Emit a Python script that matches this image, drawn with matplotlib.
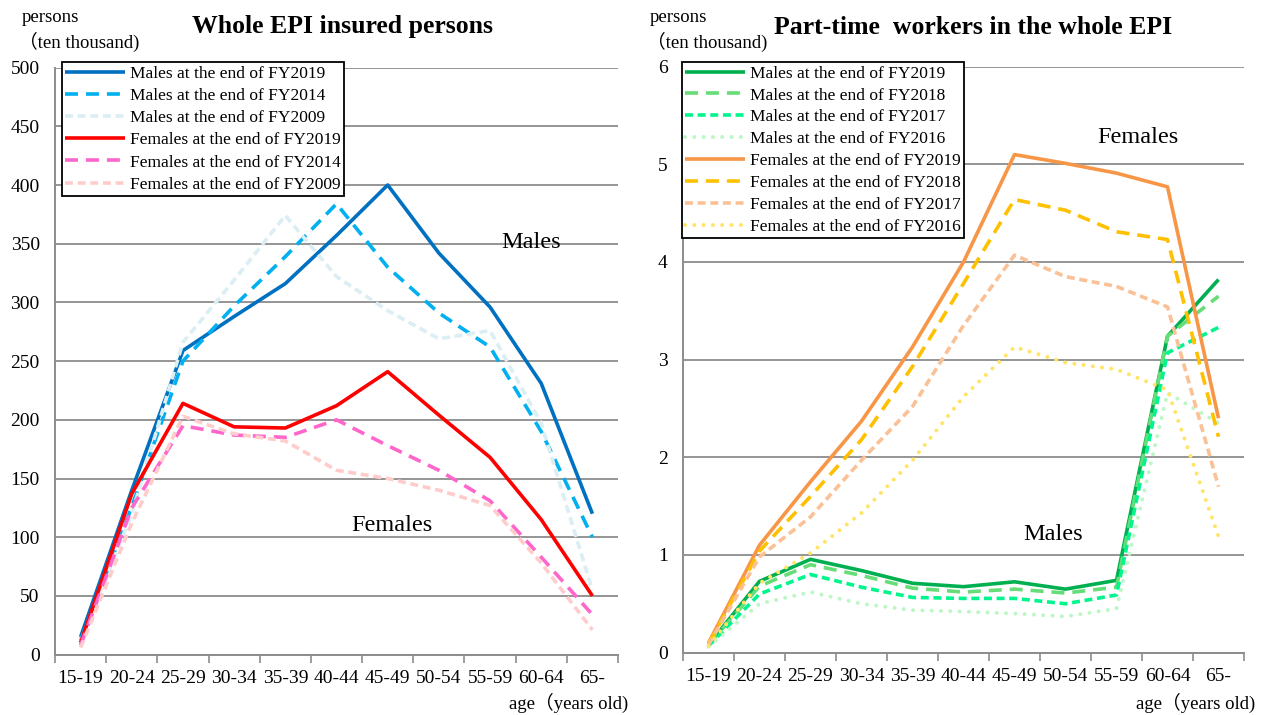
import matplotlib
matplotlib.use("Agg")
import matplotlib.pyplot as plt
import numpy as np

plt.rcParams['font.family'] = ['Liberation Serif', 'Noto Sans CJK JP', 'DejaVu Sans']

ages = ["15-19", "20-24", "25-29", "30-34", "35-39", "40-44",
        "45-49", "50-54", "55-59", "60-64", "65-"]

# Left chart: whole EPI insured persons (ten thousand)
males_2019 = [15, 140, 259, 288, 316, 357, 400, 342, 296, 231, 120]
males_2014 = [12, 126, 250, 297, 339, 384, 330, 291, 262, 190, 100]
males_2009 = [11, 120, 266, 319, 374, 322, 293, 269, 276, 197, 55]
females_2019 = [10, 137, 214, 194, 193, 212, 241, 204, 168, 115, 50]
females_2014 = [8, 125, 195, 187, 185, 200, 178, 157, 131, 83, 34]
females_2009 = [6, 112, 203, 188, 182, 157, 150, 140, 127, 78, 21]

# Right chart: part-time workers in the whole EPI (ten thousand)
pm_2019 = [0.08, 0.73, 0.955, 0.84, 0.71, 0.675, 0.725, 0.65, 0.74, 3.24, 3.82]
pm_2018 = [0.08, 0.68, 0.90, 0.79, 0.66, 0.62, 0.65, 0.61, 0.67, 3.24, 3.65]
pm_2017 = [0.07, 0.60, 0.80, 0.67, 0.565, 0.555, 0.555, 0.50, 0.59, 3.07, 3.33]
pm_2016 = [0.06, 0.50, 0.62, 0.50, 0.435, 0.42, 0.40, 0.37, 0.45, 2.66, 2.35]
pf_2019 = [0.10, 1.10, 1.75, 2.37, 3.13, 4.00, 5.10, 5.01, 4.91, 4.77, 2.40]
pf_2018 = [0.09, 1.04, 1.60, 2.18, 2.93, 3.78, 4.64, 4.53, 4.31, 4.23, 2.21]
pf_2017 = [0.08, 0.98, 1.39, 1.97, 2.52, 3.35, 4.07, 3.85, 3.75, 3.54, 1.70]
pf_2016 = [0.07, 0.71, 1.02, 1.43, 1.97, 2.62, 3.13, 2.97, 2.90, 2.69, 1.19]

left_labels = ["Males at the end of FY2019", "Males at the end of FY2014",
               "Males at the end of FY2009", "Females at the end of FY2019",
               "Females at the end of FY2014", "Females at the end of FY2009"]
right_labels = ["Males at the end of FY2019", "Males at the end of FY2018",
                "Males at the end of FY2017", "Males at the end of FY2016",
                "Females at the end of FY2019", "Females at the end of FY2018",
                "Females at the end of FY2017", "Females at the end of FY2016"]

W, H = 1261, 715
fig = plt.figure(figsize=(W / 100, H / 100), dpi=100)

GRID = '#8c8c8c'
LW = 2.6
LONG = (0, (3.6, 2.2))
SHORT = (0, (2.2, 1.3))
DOT = (0, (0.01, 2.3))


def px_axes(x0, x1, ytop, ybot):
    return fig.add_axes([x0 / W, 1 - ybot / H, (x1 - x0) / W, (ybot - ytop) / H])


def style_axes(ax, ymax, ystep):
    x = np.arange(len(ages))
    ax.set_xlim(-0.5, len(ages) - 0.5)
    ax.set_ylim(0, ymax)
    ax.set_yticks(np.arange(0, ymax + ystep / 2, ystep))
    ax.set_xticks(np.arange(-0.5, len(ages)), minor=False)
    ax.set_xticklabels([])
    ax.set_xticks(x, minor=True)
    ax.set_xticklabels(ages, minor=True, fontsize=14)
    ax.tick_params(axis='x', which='major', direction='out', length=6, color=GRID, width=1.2)
    ax.tick_params(axis='x', which='minor', length=0, pad=11)
    ax.tick_params(axis='y', length=0, pad=11, labelsize=14)
    for sp in ['top', 'right']:
        ax.spines[sp].set_visible(False)
    for sp in ['left', 'bottom']:
        ax.spines[sp].set_color(GRID)
        ax.spines[sp].set_linewidth(1.4)
    ax.grid(axis='y', color=GRID, linewidth=1.3)
    ax.set_axisbelow(True)
    return x


def make_legend(ax, left_px, spacing):
    leg = ax.legend(loc='upper left', bbox_to_anchor=(left_px / W, 1 - 62 / H),
                    bbox_transform=fig.transFigure, fontsize=12.5, frameon=True,
                    fancybox=False, edgecolor='black', borderaxespad=0,
                    handlelength=3.4, handletextpad=0.3, labelspacing=spacing,
                    borderpad=0.2, framealpha=1)
    leg.get_frame().set_linewidth(1.3)
    return leg


# ---------------- Left chart ----------------
axL = px_axes(55, 618, 67.6, 654.6)
x = style_axes(axL, 500, 50)

left_series = [
    (males_2019, '#0070c0', '-'),
    (males_2014, '#00b0f0', LONG),
    (males_2009, '#daeef3', SHORT),
    (females_2019, '#ff0000', '-'),
    (females_2014, '#ff66cc', LONG),
    (females_2009, '#ffcccc', SHORT),
]
for (vals, col, ls), lab in zip(left_series, left_labels):
    axL.plot(x, vals, color=col, linestyle=ls, linewidth=LW, label=lab,
             solid_capstyle='butt', dash_capstyle='butt')

axL.text(8.8, 351, "Males", fontsize=17.5, ha='center', va='center')
axL.text(6.08, 110, "Females", fontsize=17.5, ha='center', va='center')

make_legend(axL, 62, 0.35)

fig.text(342 / W, 1 - 27 / H, "Whole EPI insured persons", fontsize=18.5,
         fontweight='bold', ha='center', va='center')
fig.text(22 / W, 1 - 18 / H, "persons", fontsize=13.5, ha='left', va='center')
fig.text(19 / W, 1 - 42 / H, "（ten thousand)", fontsize=13.5, ha='left', va='center')
fig.text(628 / W, 1 - 703 / H, "age（years old)", fontsize=13.5, ha='right', va='center')

# ---------------- Right chart ----------------
axR = px_axes(683, 1244, 66.7, 652.6)
x = style_axes(axR, 6, 1)

right_series = [
    (pm_2019, '#00b050', '-'),
    (pm_2018, '#66dd77', LONG),
    (pm_2017, '#00f58c', SHORT),
    (pm_2016, '#bdf7c6', DOT),
    (pf_2019, '#f79646', '-'),
    (pf_2018, '#ffc000', LONG),
    (pf_2017, '#fbc196', SHORT),
    (pf_2016, '#ffe466', DOT),
]
for (vals, col, ls), lab in zip(right_series, right_labels):
    if ls == DOT:
        axR.plot(x, vals, color=col, linestyle=ls, linewidth=2.9, label=lab,
                 dash_capstyle='round')
    else:
        axR.plot(x, vals, color=col, linestyle=ls, linewidth=LW, label=lab,
                 solid_capstyle='butt', dash_capstyle='butt')

axR.text(8.42, 5.27, "Females", fontsize=17.5, ha='center', va='center')
axR.text(6.75, 1.205, "Males", fontsize=17.5, ha='center', va='center')

make_legend(axR, 682, 0.33)

fig.text(973 / W, 1 - 27 / H, "Part-time  workers in the whole EPI", fontsize=18.5,
         fontweight='bold', ha='center', va='center')
fig.text(650 / W, 1 - 18 / H, "persons", fontsize=13.5, ha='left', va='center')
fig.text(647 / W, 1 - 42 / H, "（ten thousand)", fontsize=13.5, ha='left', va='center')
fig.text(1255 / W, 1 - 703 / H, "age（years old)", fontsize=13.5, ha='right', va='center')

fig.savefig("out.png", dpi=100)
